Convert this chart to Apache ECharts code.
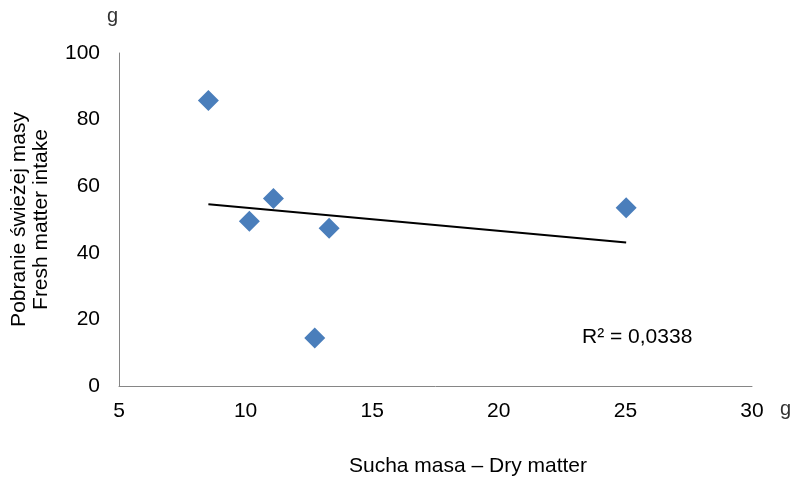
<!DOCTYPE html>
<html>
<head>
<meta charset="utf-8">
<script src="https://cdn.jsdelivr.net/npm/echarts@6/dist/echarts.min.js"></script>
<style>
  html, body { margin: 0; padding: 0; background: #fff; }
  #chart { width: 794px; height: 478px; }
</style>
</head>
<body>
<div id="chart"></div>
<script>
// dane
const dryMatter = [8.53, 10.15, 11.1, 12.73, 13.3, 25.03];
const freshIntake = [85.7, 49.5, 56.3, 14.4, 47.4, 53.5];
const r2Label = 'R\u00B2 = 0,0338';

// linia trendu liczona z danych (regresja liniowa)
const n = dryMatter.length;
const mx = dryMatter.reduce((a, b) => a + b, 0) / n;
const my = freshIntake.reduce((a, b) => a + b, 0) / n;
let sxy = 0, sxx = 0;
for (let i = 0; i < n; i++) {
  sxy += (dryMatter[i] - mx) * (freshIntake[i] - my);
  sxx += (dryMatter[i] - mx) * (dryMatter[i] - mx);
}
const slope = sxy / sxx;
const icpt = my - slope * mx;
const xMin = Math.min(...dryMatter);
const xMax = Math.max(...dryMatter);
const trend = [[xMin, icpt + slope * xMin], [xMax, icpt + slope * xMax]];

const font = 'Liberation Sans, Arial, sans-serif';
const chart = echarts.init(document.getElementById('chart'));
chart.setOption({
  animation: false,
  textStyle: { fontFamily: font },
  grid: { left: 117, right: 42, top: 53, bottom: 92 },
  xAxis: {
    type: 'value', min: 5, max: 30, interval: 5,
    axisLine: { show: true, lineStyle: { color: '#868686', width: 1 } },
    axisTick: { show: false },
    splitLine: { show: false },
    axisLabel: { fontSize: 21, color: '#000', margin: 15, fontFamily: font }
  },
  yAxis: {
    type: 'value', min: 0, max: 100, interval: 20,
    name: 'Pobranie \u015Bwie\u017Cej masy\nFresh matter intake',
    nameLocation: 'middle', nameGap: 67,
    nameTextStyle: { fontSize: 21, color: '#000', lineHeight: 22, fontFamily: font },
    axisLine: { show: true, lineStyle: { color: '#868686', width: 1 } },
    axisTick: { show: false },
    splitLine: { show: false },
    axisLabel: { fontSize: 21, color: '#000', margin: 19, fontFamily: font }
  },
  graphic: [
    { type: 'text', left: 107, top: 6, style: { text: 'g', fontSize: 20, fill: '#333', fontFamily: font } },
    { type: 'text', left: 780, top: 399, style: { text: 'g', fontSize: 20, fill: '#333', fontFamily: font } },
    { type: 'text', left: 582, top: 327, style: { text: r2Label, fontSize: 21, fill: '#000', fontFamily: font } },
    { type: 'text', x: 468, y: 466, style: { text: 'Sucha masa \u2013 Dry matter', fontSize: 21, fill: '#000', fontFamily: font, align: 'center', verticalAlign: 'middle' } }
  ],
  series: [
    {
      type: 'scatter',
      symbol: 'diamond',
      symbolSize: 21,
      itemStyle: { color: '#4A7EBB', opacity: 1 },
      data: dryMatter.map((x, i) => [x, freshIntake[i]]),
      z: 3
    },
    {
      type: 'line',
      showSymbol: false,
      lineStyle: { color: '#000', width: 2 },
      data: trend,
      z: 2
    }
  ]
});
</script>
</body>
</html>
